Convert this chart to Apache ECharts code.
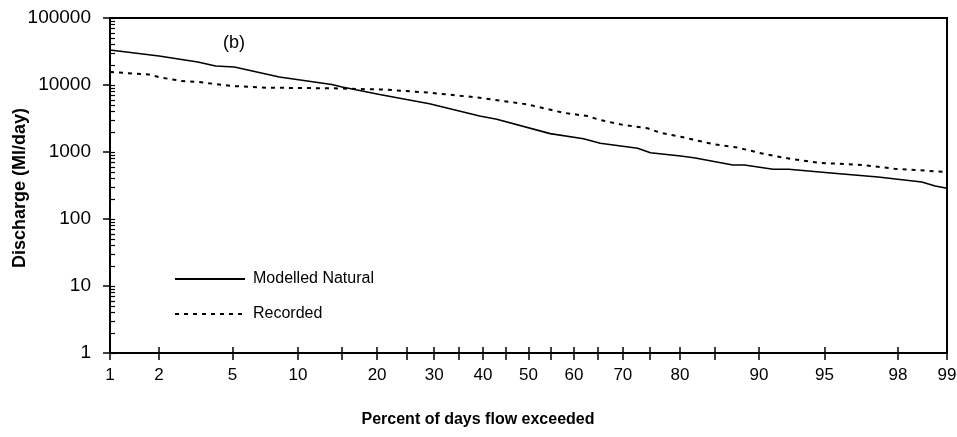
<!DOCTYPE html>
<html>
<head>
<meta charset="utf-8">
<script src="https://cdn.jsdelivr.net/npm/echarts@6/dist/echarts.min.js"></script>
<style>
  html, body { margin: 0; padding: 0; background: #fff; }
  #flow-duration { width: 957px; height: 437px; }
</style>
</head>
<body>
<div id="flow-duration"></div>
<script>
// percent of days exceeded / discharge (Ml/day)
const naturalPct = [1, 2, 3.3, 4.1, 5.1, 8.3, 13.7, 15, 20.4, 29.1, 39.3, 43, 54.8, 62, 65.5, 72.8, 75.1, 80.1, 82.1, 87.2, 88.5, 91.3, 92.6, 95.2, 97.4, 98.56, 98.81, 99];
const naturalFlow = [33300, 27100, 22000, 19200, 18600, 13200, 10200, 9330, 7200, 5260, 3450, 3080, 1880, 1580, 1350, 1136, 976, 873, 822, 640, 640, 552, 552, 491, 424, 357, 311, 287];

const recordedPct = [1, 1.73, 2.06, 2.68, 3.33, 4.95, 7.2, 13.7, 21.5, 29.1, 39.3, 49.7, 57.6, 62.8, 65.5, 70.1, 74.6, 76.8, 80.1, 84.9, 87.8, 90.2, 92.2, 94.6, 96.8, 97.9, 99];
const recordedFlow = [15600, 14400, 12900, 11500, 11100, 9660, 9120, 8930, 8510, 7670, 6460, 5150, 3860, 3440, 3000, 2530, 2260, 1940, 1690, 1300, 1160, 957, 822, 692, 640, 563, 503];

const xTickPcts = [1, 2, 5, 10, 15, 20, 25, 30, 35, 40, 45, 50, 55, 60, 65, 70, 75, 80, 85, 90, 95, 98, 99];
const xLabelPcts = [1, 2, 5, 10, 20, 30, 40, 50, 60, 70, 80, 90, 95, 98, 99];
const yMinorTicks = [1, 2, 3, 4, 5, 6, 7, 8, 9, 10, 20, 30, 40, 50, 60, 70, 80, 90, 100, 200, 300, 400, 500, 600, 700, 800, 900,
  1000, 2000, 3000, 4000, 5000, 6000, 7000, 8000, 9000, 10000, 20000, 30000, 40000, 50000, 60000, 70000, 80000, 90000, 100000];

// inverse normal cdf (Acklam) for the probability axis
function probit(p) {
  const a = [-39.69683028665376, 220.9460984245205, -275.9285104469687, 138.357751867269, -30.66479806614716, 2.506628277459239];
  const b = [-54.47609879822406, 161.5858368580409, -155.6989798598866, 66.80131188771972, -13.28068155288572];
  const c = [-0.007784894002430293, -0.3223964580411365, -2.400758277161838, -2.549732539343734, 4.374664141464968, 2.938163982698783];
  const d = [0.007784695709041462, 0.3224671290700398, 2.445134137142996, 3.754408661907416];
  const pl = 0.02425;
  let q, r;
  if (p < pl) {
    q = Math.sqrt(-2 * Math.log(p));
    return (((((c[0] * q + c[1]) * q + c[2]) * q + c[3]) * q + c[4]) * q + c[5]) /
      ((((d[0] * q + d[1]) * q + d[2]) * q + d[3]) * q + 1);
  }
  if (p > 1 - pl) {
    q = Math.sqrt(-2 * Math.log(1 - p));
    return -(((((c[0] * q + c[1]) * q + c[2]) * q + c[3]) * q + c[4]) * q + c[5]) /
      ((((d[0] * q + d[1]) * q + d[2]) * q + d[3]) * q + 1);
  }
  q = p - 0.5;
  r = q * q;
  return (((((a[0] * r + a[1]) * r + a[2]) * r + a[3]) * r + a[4]) * r + a[5]) * q /
    (((((b[0] * r + b[1]) * r + b[2]) * r + b[3]) * r + b[4]) * r + 1);
}

const zOf = (pct) => probit(pct / 100);
const xMin = zOf(1);
const xMax = zOf(99);
const labelZ = xLabelPcts.map(zOf);
const font = "'Liberation Sans', Arial, sans-serif";

function toPoints(pcts, flows) {
  return pcts.map((p, i) => [zOf(p), flows[i]]);
}

const chart = echarts.init(document.getElementById('flow-duration'));
chart.setOption({
  animation: false,
  backgroundColor: '#fff',
  textStyle: { fontFamily: font, color: '#000' },
  title: {
    text: '(b)',
    left: 218,
    top: 29,
    textStyle: { fontSize: 18, fontWeight: 'normal', color: '#000', fontFamily: font }
  },
  grid: {
    left: 110, right: 10, top: 18, bottom: 84,
    containLabel: false,
    outerBoundsMode: 'none',
    show: true, borderColor: '#000', borderWidth: 2, backgroundColor: 'transparent'
  },
  legend: {
    orient: 'vertical',
    left: 169,
    top: 266,
    itemWidth: 70,
    itemHeight: 14,
    itemGap: 19,
    itemStyle: { opacity: 0, borderWidth: 0, color: 'rgba(0,0,0,0)' },
    textStyle: { fontSize: 16, color: '#000', fontFamily: font, padding: [0, 0, 0, 3] },
    data: ['Modelled Natural', 'Recorded']
  },
  xAxis: [
    {
      type: 'value',
      min: xMin,
      max: xMax,
      position: 'bottom',
      axisLine: { onZero: false, lineStyle: { color: '#000', width: 2 } },
      axisTick: { customValues: xTickPcts.map(zOf), length: 7, lineStyle: { color: '#000', width: 1.5 } },
      axisLabel: {
        customValues: labelZ,
        margin: 14,
        fontSize: 17,
        color: '#000',
        fontFamily: font,
        formatter: (v) => {
          let best = 0;
          labelZ.forEach((z, i) => { if (Math.abs(z - v) < Math.abs(labelZ[best] - v)) best = i; });
          return String(xLabelPcts[best]);
        }
      },
      splitLine: { show: false }
    },
    {
      type: 'value',
      min: xMin,
      max: xMax,
      position: 'bottom',
      axisLine: { show: false, onZero: false },
      axisTick: { customValues: xTickPcts.map(zOf), inside: true, length: 6, lineStyle: { color: '#000', width: 1.5 } },
      axisLabel: { show: false },
      splitLine: { show: false }
    }
  ],
  yAxis: [
    {
      type: 'log',
      logBase: 10,
      min: 1,
      max: 100000,
      position: 'left',
      axisLine: { show: true, onZero: false, lineStyle: { color: '#000', width: 2 } },
      axisTick: { show: true, length: 7, lineStyle: { color: '#000', width: 1.5 } },
      axisLabel: { margin: 19, fontSize: 19, color: '#000', fontFamily: font, formatter: (v) => String(v) },
      splitLine: { show: false }
    },
    {
      type: 'value',
      min: 0,
      max: 5,
      position: 'left',
      axisLine: { show: false, onZero: false },
      axisTick: { show: true, inside: true, length: 5, customValues: yMinorTicks.map(Math.log10), lineStyle: { color: '#000', width: 1.2 } },
      axisLabel: { show: false },
      splitLine: { show: false }
    }
  ],
  graphic: [
    {
      type: 'text',
      x: 478,
      y: 420,
      style: {
        text: 'Percent of days flow exceeded',
        font: "bold 16px 'Liberation Sans', Arial, sans-serif",
        fill: '#000',
        align: 'center',
        verticalAlign: 'middle'
      }
    },
    {
      type: 'text',
      x: 20,
      y: 188,
      rotation: Math.PI / 2,
      style: {
        text: 'Discharge (Ml/day)',
        font: "bold 18px 'Liberation Sans', Arial, sans-serif",
        fill: '#000',
        align: 'center',
        verticalAlign: 'middle'
      }
    }
  ],
  series: [
    {
      name: 'Modelled Natural',
      type: 'line',
      xAxisIndex: 0,
      yAxisIndex: 0,
      symbol: 'none',
      lineStyle: { color: '#000', width: 1.6 },
      itemStyle: { color: '#000' },
      data: toPoints(naturalPct, naturalFlow)
    },
    {
      name: 'Recorded',
      type: 'line',
      xAxisIndex: 0,
      yAxisIndex: 0,
      symbol: 'none',
      lineStyle: { color: '#000', width: 2, type: [4, 5] },
      itemStyle: { color: '#000' },
      data: toPoints(recordedPct, recordedFlow)
    }
  ]
});
</script>
</body>
</html>
